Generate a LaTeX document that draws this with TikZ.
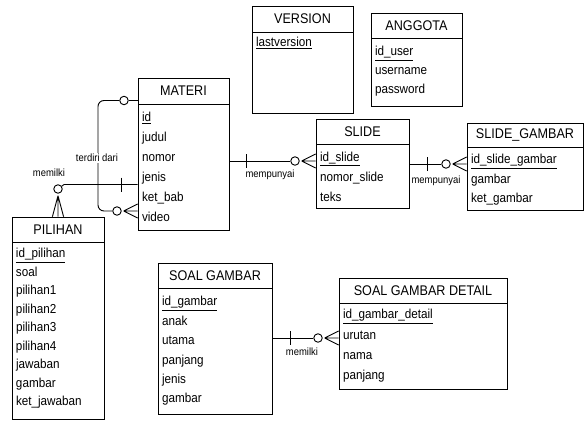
\documentclass[tikz,border=0pt]{standalone}
\usepackage{fontspec}
\setmainfont{Liberation Sans}[FakeStretch=0.9]
\usetikzlibrary{calc}

\tikzset{
  entity/.style={draw, line width=0.9pt, inner sep=0pt, font=\fontsize{14}{16}\selectfont},
  attrs/.style={draw, line width=0.9pt, anchor=north, inner xsep=4pt, inner ysep=2pt,
    align=left, font=\fontsize{13}{#1}\selectfont},
  attrs/.default=20,
  link/.style={line width=0.9pt},
  zero/.style={circle, draw, line width=0.9pt, minimum size=8.5pt, inner sep=0pt},
  rel/.style={font=\fontsize{10.5}{12}\selectfont, inner sep=1pt},
  crow/.pic={\draw[link] (0,0) -- (14,-7) (0,0) -- (14,0) (0,0) -- (14,7);}
}

\begin{document}
\begin{tikzpicture}[x=1pt,y=-1pt]
\useasboundingbox (0,0) rectangle (585,428);

% tables
\node[entity, minimum width=101pt, minimum height=26pt] (version) at (302.5,19) {VERSION};
\node[attrs, text width=93pt, text height=12pt, text depth=65pt] (version-a) at (version.south)
  {\underline{lastversion}};

\node[entity, minimum width=91pt, minimum height=25pt] (anggota) at (416.5,25.5) {ANGGOTA};
\node[attrs=19, text width=83pt, text height=15pt, text depth=49pt] (anggota-a) at (anggota.south)
  {\underline{id\_user}\\username\\password};

\node[entity, minimum width=91pt, minimum height=26pt] (materi) at (183.5,91) {MATERI};
\node[attrs=20, text width=83pt, text height=14.5pt, text depth=107.5pt] (materi-a) at (materi.south)
  {\underline{id}\\judul\\nomor\\jenis\\ket\_bab\\video};

\node[entity, minimum width=93pt, minimum height=25pt] (slide) at (362.5,131.5) {SLIDE};
\node[attrs=20, text width=85pt, text height=14.5pt, text depth=45.5pt] (slide-a) at (slide.south)
  {\underline{id\_slide}\\nomor\_slide\\teks};

\node[entity, minimum width=116pt, minimum height=24pt] (slidegambar) at (525,135) {SLIDE\_GAMBAR};
\node[attrs=19.5, text width=108pt, text height=14pt, text depth=45pt] (slidegambar-a) at (slidegambar.south)
  {\underline{id\_slide\_gambar}\\gambar\\ket\_gambar};

\node[entity, minimum width=92pt, minimum height=25pt] (pilihan) at (58,229.5) {PILIHAN};
\node[attrs=18.5, text width=84pt, text height=13pt, text depth=160pt] (pilihan-a) at (pilihan.south)
  {\underline{id\_pilihan}\\soal\\pilihan1\\pilihan2\\pilihan3\\pilihan4\\jawaban\\gambar\\ket\_jawaban};

\node[entity, minimum width=114pt, minimum height=25pt] (soalgambar) at (215,275.5) {SOAL GAMBAR};
\node[attrs=19.4, text width=106pt, text height=15pt, text depth=107pt] (soalgambar-a) at (soalgambar.south)
  {\underline{id\_gambar}\\anak\\utama\\panjang\\jenis\\gambar};

\node[entity, minimum width=168pt, minimum height=25pt] (detail) at (423,290.5) {SOAL GAMBAR DETAIL};
\node[attrs=20.3, text width=160pt, text height=13pt, text depth=69pt] (detail-a) at (detail.south)
  {\underline{id\_gambar\_detail}\\urutan\\nama\\panjang};

% materi - slide
\node[zero] (o1) at (295,161) {};
\draw[link] (materi-a.east |- o1) -- (o1);
\draw[link] ($(materi-a.east |- o1)+(17,-7)$) -- +(0,14);
\pic at ([xshift=2pt]o1.east) {crow};
\node[rel] (r1) at (270,175) {mempunyai};

% slide - slide_gambar
\node[zero] (o2) at (446,164) {};
\draw[link] (slide-a.east |- o2) -- (o2);
\draw[link] ($(slide-a.east |- o2)+(18,-7)$) -- +(0,14);
\pic at ([xshift=2pt]o2.east) {crow};
\node[rel] (r2) at (436,180.5) {mempunyai};

% soal gambar - detail
\node[zero] (o3) at (318,338) {};
\draw[link] (soalgambar-a.east |- o3) -- (o3);
\draw[link] ($(soalgambar-a.east |- o3)+(18,-7)$) -- +(0,14);
\pic at ([xshift=2pt]o3.east) {crow};
\node[rel] (r3) at (302,352) {memilki};

% materi - pilihan
\node[zero] (o4) at (58,189) {};
\draw[link] (materi-a.west |- 0,184.5) -- (64,184.5) -- (o4);
\draw[link] ($(materi-a.west |- 0,184.5)+(-16,-7)$) -- +(0,14);
\pic[rotate=-90, xscale=1.5, yscale=0.8] at ([yshift=-2pt]o4.south) {crow};
\node[rel] (r4) at (49,173) {memilki};

% materi - materi
\node[zero] (o6) at (124,100.5) {};
\node[zero] (o5) at (117,211) {};
\draw[link] (materi.west |- o6) -- (o6);
\draw[link, rounded corners=6pt] (o6) -- (98,100.5) -- (98,211) -- (o5);
\pic at ([xshift=2pt]o5.east) {crow};
\node[rel, fill=white] (r5) at (97,158) {terdiri dari};
\end{tikzpicture}
\end{document}
